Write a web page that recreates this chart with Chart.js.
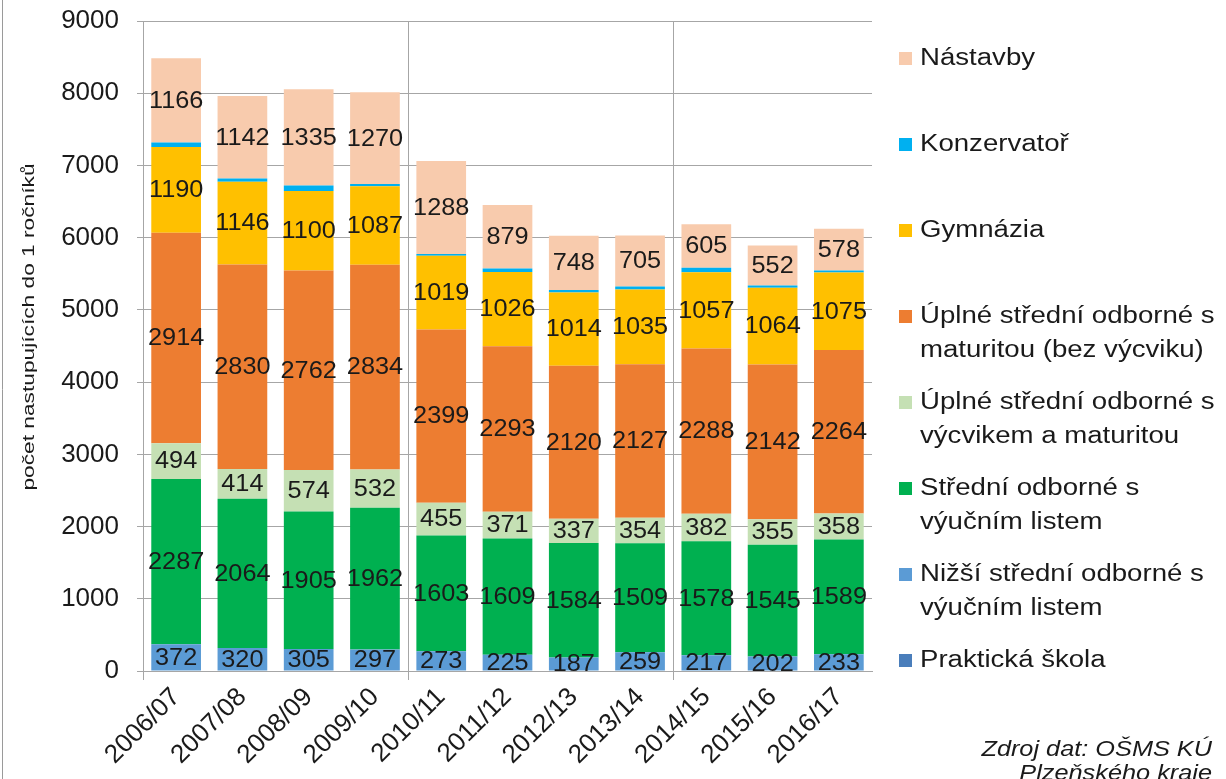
<!DOCTYPE html>
<html lang="cs">
<head>
<meta charset="utf-8">
<title>Nastupující do 1. ročníků</title>
<script src="https://cdn.jsdelivr.net/npm/chart.js@4/dist/chart.umd.min.js"></script>
<style>
    html, body { margin: 0; padding: 0; background: #fff; }
    #wrap { width: 1226px; height: 779px; position: relative; }
</style>
</head>
<body>
<div id="wrap"><canvas id="chart" width="1226" height="779"></canvas></div>
<script>
// Data
const years = ['2006/07', '2007/08', '2008/09', '2009/10', '2010/11', '2011/12', '2012/13', '2013/14', '2014/15', '2015/16', '2016/17'];

const prakticka   = [0, 0, 0, 0, 0, 0, 0, 0, 0, 0, 0];
const nizsi       = [372, 320, 305, 297, 273, 225, 187, 259, 217, 202, 233];
const stredniVL   = [2287, 2064, 1905, 1962, 1603, 1609, 1584, 1509, 1578, 1545, 1589];
const uplneVycvik = [494, 414, 574, 532, 455, 371, 337, 354, 382, 355, 358];
const uplneBez    = [2914, 2830, 2762, 2834, 2399, 2293, 2120, 2127, 2288, 2142, 2264];
const gymnazia    = [1190, 1146, 1100, 1087, 1019, 1026, 1014, 1035, 1057, 1064, 1075];
const konzervator = [60, 45, 75, 30, 25, 50, 35, 40, 60, 30, 25];
const nastavby    = [1166, 1142, 1335, 1270, 1288, 879, 748, 705, 605, 552, 578];

const yTicks = [0, 1000, 2000, 3000, 4000, 5000, 6000, 7000, 8000, 9000];

const FONT = '"Liberation Sans", Arial, sans-serif';
const INK = '#1a1a1a';

// bottom of the stack first
const series = [
    { name: 'Praktická škola', lines: ['Praktická škola'], data: prakticka, color: '#4A7EBB', labels: false },
    { name: 'Nižší střední odborné s výučním listem', lines: ['Nižší střední odborné s', 'výučním listem'], data: nizsi, color: '#5B9BD5', labels: true },
    { name: 'Střední odborné s výučním listem', lines: ['Střední odborné s', 'výučním listem'], data: stredniVL, color: '#00B050', labels: true },
    { name: 'Úplné střední odborné s výcvikem a maturitou', lines: ['Úplné střední odborné s', 'výcvikem a maturitou'], data: uplneVycvik, color: '#C5E0B4', labels: true },
    { name: 'Úplné střední odborné s maturitou (bez výcviku)', lines: ['Úplné střední odborné s', 'maturitou (bez výcviku)'], data: uplneBez, color: '#ED7D31', labels: true },
    { name: 'Gymnázia', lines: ['Gymnázia'], data: gymnazia, color: '#FFC000', labels: true },
    { name: 'Konzervatoř', lines: ['Konzervatoř'], data: konzervator, color: '#00B0F0', labels: false },
    { name: 'Nástavby', lines: ['Nástavby'], data: nastavby, color: '#F8CBAD', labels: true }
];

// the source chart uses a wide face, so text is stretched sideways
function wideText(ctx, text, x, y, sx) {
    ctx.save();
    ctx.translate(x, y);
    ctx.scale(sx, 1);
    ctx.fillText(text, 0, 0);
    ctx.restore();
}

// no extra room for label overhang, the plot box is set by padding + afterFit
function noOverhang(scale) {
    scale.paddingTop = 0;
    scale.paddingBottom = 0;
    scale.paddingLeft = 0;
    scale.paddingRight = 0;
}

// Values written in the middle of each segment
const valueLabels = {
    id: 'valueLabels',
    afterDatasetsDraw(chart) {
        const ctx = chart.ctx;
        ctx.save();
        ctx.font = '23px ' + FONT;
        ctx.fillStyle = INK;
        ctx.textAlign = 'center';
        ctx.textBaseline = 'middle';
        chart.data.datasets.forEach((ds, i) => {
            if (!series[i].labels) return;
            chart.getDatasetMeta(i).data.forEach((bar, j) => {
                const v = ds.data[j];
                if (!v) return;
                wideText(ctx, String(v), bar.x, (bar.y + bar.base) / 2 + 1, 1.1);
            });
        });
        ctx.restore();
    }
};

// Legend, axis title, source note, frame
const extras = {
    id: 'extras',
    afterDraw(chart) {
        const ctx = chart.ctx;
        ctx.save();

        // left frame line
        ctx.strokeStyle = '#9a9a9a';
        ctx.lineWidth = 1;
        ctx.beginPath();
        ctx.moveTo(2.5, 0);
        ctx.lineTo(2.5, chart.height);
        ctx.stroke();

        // legend, top item = top of stack
        ctx.font = '23px ' + FONT;
        ctx.textAlign = 'left';
        ctx.textBaseline = 'middle';
        const items = series.slice().reverse();
        items.forEach((s, k) => {
            const y = 59 + k * 86;
            ctx.fillStyle = s.color;
            ctx.fillRect(899, y - 7, 13, 13);
            ctx.fillStyle = INK;
            s.lines.forEach((line, n) => {
                wideText(ctx, line, 920, y + n * 34, 1.2);
            });
        });

        // y axis title
        ctx.save();
        ctx.translate(30, 327);
        ctx.rotate(-Math.PI / 2);
        ctx.scale(1.42, 1);
        ctx.font = '16px ' + FONT;
        ctx.textAlign = 'center';
        ctx.fillText('počet nastupujících do 1 ročníků', 0, 0);
        ctx.restore();

        // source
        ctx.font = 'italic 22px ' + FONT;
        ctx.textAlign = 'right';
        wideText(ctx, 'Zdroj dat: OŠMS KÚ', 1212, 750, 1.15);
        wideText(ctx, 'Plzeňského kraje', 1212, 774, 1.15);

        ctx.restore();
    }
};

const ctx = document.getElementById('chart').getContext('2d');

new Chart(ctx, {
    type: 'bar',
    data: {
        labels: years,
        datasets: series.map(s => ({
            label: s.name,
            data: s.data,
            backgroundColor: s.color,
            borderWidth: 0,
            categoryPercentage: 0.75,
            barPercentage: 1
        }))
    },
    options: {
        responsive: false,
        animation: false,
        layout: { padding: { left: 0, top: 21, right: 354, bottom: 0 } },
        plugins: {
            legend: { display: false },
            tooltip: { enabled: false },
            title: { display: false }
        },
        scales: {
            x: {
                stacked: true,
                afterFit: scale => { scale.height = 108; noOverhang(scale); },
                grid: {
                    offset: true,
                    color: c => (c.index % 4 === 0 ? '#a6a6a6' : 'rgba(0,0,0,0)'),
                    tickColor: c => (c.index % 4 === 0 ? '#a6a6a6' : 'rgba(0,0,0,0)'),
                    tickLength: 9,
                    lineWidth: 1
                },
                border: { color: '#a6a6a6', width: 1 },
                ticks: {
                    color: INK,
                    font: { family: FONT, size: 26 },
                    maxRotation: 45,
                    minRotation: 45,
                    autoSkip: false,
                    padding: 2
                }
            },
            y: {
                stacked: true,
                min: 0,
                max: 9000,
                afterFit: scale => { scale.width = 143; noOverhang(scale); },
                afterBuildTicks: scale => { scale.ticks = yTicks.map(v => ({ value: v })); },
                grid: {
                    color: '#a6a6a6',
                    tickColor: '#a6a6a6',
                    tickLength: 6,
                    lineWidth: 1
                },
                border: { color: '#a6a6a6', width: 1 },
                ticks: {
                    color: INK,
                    font: { family: FONT, size: 26 },
                    padding: 18,
                    callback: v => String(v)
                }
            }
        }
    },
    plugins: [valueLabels, extras]
});
</script>
</body>
</html>
